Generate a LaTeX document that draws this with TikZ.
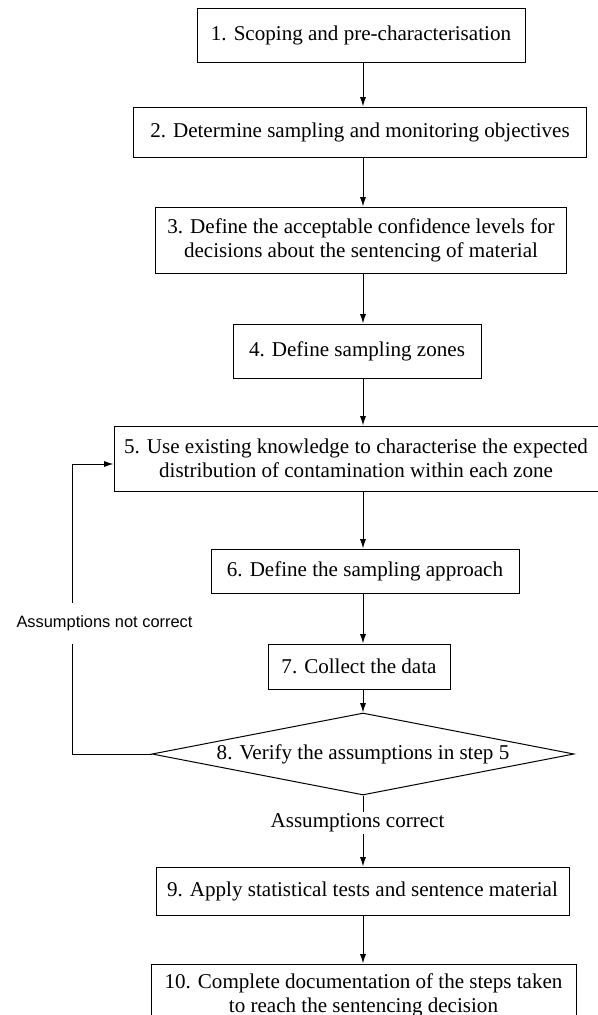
\documentclass[tikz,border=0pt]{standalone}
\usepackage{fontspec}
\setmainfont{Liberation Serif}
\newfontfamily\sansfont{Liberation Sans}
\usetikzlibrary{shapes.geometric,arrows.meta}

\begin{document}
\begin{tikzpicture}[x=0.75pt,y=-0.75pt,line width=0.75pt,
		fleche/.style={-{Latex[length=7pt,width=4.5pt]}},
		texte/.style={font=\fontsize{15.8}{18}\selectfont},
		boite/.style 2 args={draw,texte,align=center,inner sep=0pt,minimum width=#1*0.75pt,minimum height=#2*0.75pt}]
			\useasboundingbox (0,0) rectangle (598,1015);
			\coordinate (axe) at (363,0);
			
			\node[boite={328}{54}] (n1) at (361,35) {1. Scoping and pre-characterisation};
			\node[boite={453}{50}] (n2) at (360,132) {2. Determine sampling and monitoring objectives};
			\node[boite={411}{66}] (n3) at (361,240) {3. Define the acceptable confidence levels for\\decisions about the sentencing of material};
			\node[boite={248}{54}] (n4) at (357,351) {4. Define sampling zones};
			\node[boite={484}{65}] (n5) at (356,458.5) {5. Use existing knowledge to characterise the expected\\distribution of contamination within each zone};
			\node[boite={308}{44}] (n6) at (365,571) {6. Define the sampling approach};
			\node[boite={182}{45}] (n7) at (359,666.5) {7. Collect the data};
			\node[boite={422}{82},diamond,aspect=5] (n8) at (363,754) {8. Verify the assumptions in step 5};%losange
			\node[boite={413}{48}] (n9) at (362.5,891) {9. Apply statistical tests and sentence material};
			\node[boite={425}{62}] (n10) at (363.5,995) {10. Complete documentation of the steps taken\\to reach the sentencing decision};
			
			\foreach \a/\b in {n1/n2,n2/n3,n3/n4,n4/n5,n5/n6,n6/n7,n7/n8,n9/n10}
				\draw[fleche] (\a.south -| axe) -- (\b.north -| axe);
			
			\draw[fleche] (n8.south) -- (n9.north -| axe);
			\node[texte,fill=white,inner sep=0pt,minimum height=22*0.75pt] (oui) at (357.5,823) {Assumptions correct};
			
			\coordinate (coin) at (72,464);
			\draw[fleche] (n8.west) -| (coin) -- (coin -| n5.west);%boucle
			\node[fill=white,font=\sansfont\fontsize{12.3}{14}\selectfont,inner sep=0pt,minimum height=41*0.75pt] (non) at (104.5,623) {Assumptions not correct};
			
		\end{tikzpicture}
\end{document}
